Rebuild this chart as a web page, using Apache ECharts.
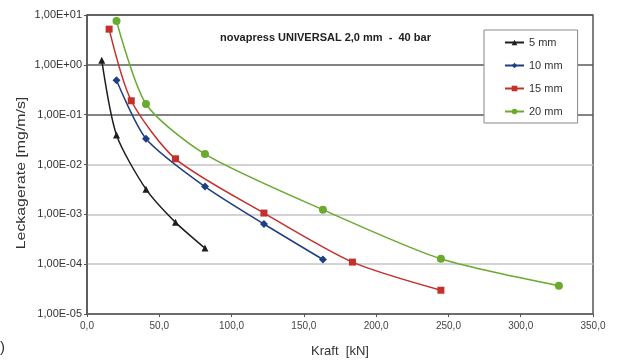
<!DOCTYPE html>
<html>
<head>
<meta charset="utf-8">
<script src="https://cdn.jsdelivr.net/npm/echarts@6/dist/echarts.min.js"></script>
<style>
  html, body { margin: 0; padding: 0; background: #fff; }
  #chart { width: 617px; height: 363px; }
</style>
</head>
<body>
<div id="chart"></div>
<script>
// values (Kraft in kN, Leckagerate in mg/m/s)
const names = ['5 mm', '10 mm', '15 mm', '20 mm']
const kraft5 = [10.2, 20.4, 40.8, 61.2, 81.6]
const leck5 = [1.24, 0.039, 0.0032, 0.00069, 0.00021]
const kraft10 = [20.4, 40.8, 81.6, 122.4, 163.2]
const leck10 = [0.49, 0.033, 0.0036, 0.00064, 0.000124]
const kraft15 = [15.3, 30.6, 61.2, 122.4, 183.6, 244.8]
const leck15 = [5.2, 0.19, 0.013, 0.00106, 0.00011, 0.00003]
const kraft20 = [20.4, 40.8, 81.6, 163.2, 244.8, 326.4]
const leck20 = [7.6, 0.164, 0.0162, 0.00124, 0.000128, 0.000037]
const yTickLabels = ['1,00E-05', '1,00E-04', '1,00E-03', '1,00E-02', '1,00E-01', '1,00E+00', '1,00E+01']

const colors = ['#1e1e1e', '#1f3f82', '#c4302b', '#6aab2f']
const symbols = ['triangle', 'diamond', 'rect', 'circle']
const symbolSizes = [7, 8, 7, 8]
const font = "'Liberation Sans', Arial, sans-serif"

function pairs(xs, ys) {
	return xs.map((x, i) => [x, ys[i]])
}

const seriesData = [
	pairs(kraft5, leck5),
	pairs(kraft10, leck10),
	pairs(kraft15, leck15),
	pairs(kraft20, leck20),
]

const chart = echarts.init(document.getElementById('chart'))

chart.setOption({
	backgroundColor: '#fff',
	animation: false,
	textStyle: { fontFamily: font },
	grid: {
		left: 87,
		right: 24,
		top: 15,
		bottom: 49,
		show: true,
		borderColor: '#555',
		borderWidth: 1.5,
	},
	title: {
		text: 'novapress UNIVERSAL 2,0 mm  -  40 bar',
		left: 220,
		top: 32,
		padding: 0,
		textStyle: { fontFamily: font, fontSize: 11, fontWeight: 'bold', color: '#222' },
	},
	legend: {
		orient: 'vertical',
		left: 484,
		top: 30,
		padding: [7, 15, 6, 20],
		itemGap: 12,
		itemWidth: 19,
		itemHeight: 7,
		backgroundColor: '#fff',
		borderColor: '#888',
		borderWidth: 1,
		textStyle: { fontFamily: font, fontSize: 11, color: '#333' },
		data: names,
	},
	xAxis: {
		type: 'value',
		min: 0,
		max: 350,
		interval: 50,
		name: 'Kraft  [kN]',
		nameLocation: 'middle',
		nameGap: 31,
		nameTextStyle: { fontFamily: font, fontSize: 13, color: '#333' },
		axisLine: { lineStyle: { color: '#555', width: 1.5 } },
		axisTick: { show: true, length: 3, lineStyle: { color: '#555' } },
		axisLabel: {
			fontSize: 10,
			color: '#444',
			margin: 7,
			formatter: (v) => v.toFixed(1).replace('.', ','),
		},
		splitLine: { show: false },
	},
	yAxis: {
		type: 'log',
		logBase: 10,
		min: 0.00001,
		max: 10,
		axisLine: { show: true, lineStyle: { color: '#555', width: 1.5 } },
		axisTick: { show: true, length: 3, lineStyle: { color: '#555' } },
		axisLabel: {
			fontSize: 11,
			color: '#333',
			margin: 5,
			formatter: (v) => yTickLabels[Math.round(Math.log10(v)) + 5],
		},
		splitLine: {
			show: true,
			lineStyle: {
				color: ['#c4c4c4', '#c4c4c4', '#c4c4c4', '#c4c4c4', '#5a5a5a', '#5a5a5a', '#5a5a5a'],
				width: 1.5,
			},
		},
	},
	graphic: [
		{
			type: 'text',
			x: 21,
			y: 173,
			rotation: Math.PI / 2,
			scaleX: 1.22,
			style: {
				text: 'Leckagerate [mg/m/s]',
				fontFamily: font,
				fontSize: 13,
				fill: '#333',
				align: 'center',
				verticalAlign: 'middle',
			},
		},
		{
			type: 'text',
			left: 0,
			top: 340,
			style: { text: ')', fontFamily: font, fontSize: 15, fill: '#333' },
		},
	],
	series: seriesData.map((d, i) => ({
		name: names[i],
		type: 'line',
		data: d,
		smooth: 0.25,
		symbol: symbols[i],
		symbolSize: symbolSizes[i],
		lineStyle: { color: colors[i], width: 1.5 },
		itemStyle: { color: colors[i] },
	})),
})
</script>
</body>
</html>
